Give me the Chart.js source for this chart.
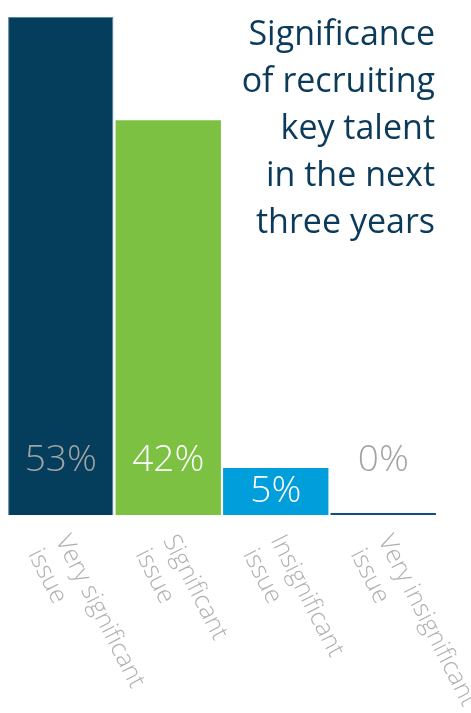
<!DOCTYPE html>
<html>
<head>
<meta charset="utf-8">
<script src="https://cdn.jsdelivr.net/npm/chart.js@4"></script>
<style>
  html, body { margin: 0; padding: 0; background: #fff; }
  canvas { display: block; }
</style>
</head>
<body>
<canvas id="talentChart" width="471" height="713"></canvas>
<script>
const categories = [
  ["Very significant", "issue"],
  ["Significant", "issue"],
  ["Insignificant", "issue"],
  ["Very insignificant", "issue"]
];
const shares = [53, 42, 5, 0];
const titleLines = ["Significance", "of recruiting", "key talent", "in the next", "three years"];

const barColors = ["#053d5c", "#7cc142", "#009fdc", "#0e4d85"];
const valueColors = ["#a3a3a3", "#ffffff", "#ffffff", "#a3a3a3"];

// title block in the top right corner
const titlePlugin = {
  id: "cornerTitle",
  afterDraw(chart) {
    const c = chart.ctx;
    c.save();
    c.fillStyle = "#0b3a5a";
    c.font = "34px 'Open Sans'";
    c.textAlign = "right";
    c.textBaseline = "alphabetic";
    titleLines.forEach((line, i) => c.fillText(line, 435, 45 + i * 47));
    c.restore();
  }
};

// percentage inside each bar, plus slanted category names under the axis
const labelPlugin = {
  id: "barLabels",
  afterDatasetsDraw(chart) {
    const c = chart.ctx;
    const meta = chart.getDatasetMeta(0);
    const base = chart.scales.y.getPixelForValue(0);
    c.save();
    c.font = "300 37px 'Open Sans'";
    c.textAlign = "center";
    c.textBaseline = "middle";
    meta.data.forEach((bar, i) => {
      let y = 460;
      if (shares[i] > 0 && bar.y > y - 18) y = (bar.y + base) / 2;
      c.fillStyle = valueColors[i];
      c.fillText(shares[i] + "%", bar.x, y);
    });

    c.font = "300 25px 'Open Sans'";
    c.fillStyle = "#b0b0b0";
    c.textAlign = "left";
    c.textBaseline = "top";
    meta.data.forEach((bar, i) => {
      c.save();
      c.translate(bar.x + 12, 531);
      c.rotate(63 * Math.PI / 180);
      categories[i].forEach((line, k) => c.fillText(line, 0, k * 31));
      c.restore();
    });
    c.restore();
  }
};

new Chart(document.getElementById("talentChart").getContext("2d"), {
  type: "bar",
  data: {
    labels: categories,
    datasets: [{
      data: shares,
      backgroundColor: barColors,
      borderColor: ["#5d86a3", "#7cc142", "#009fdc", "#0e4d85"],
      borderWidth: [1, 0, 0, 0],
      borderSkipped: "bottom",
      minBarLength: 2,
      barPercentage: 0.98,
      categoryPercentage: 1
    }]
  },
  options: {
    responsive: false,
    animation: false,
    layout: { padding: { left: 7, right: 34, top: 17, bottom: 198 } },
    plugins: {
      legend: { display: false },
      tooltip: { enabled: false },
      title: { display: false }
    },
    scales: {
      x: { display: false },
      y: { display: false, min: 0, max: 53 }
    }
  },
  plugins: [titlePlugin, labelPlugin]
});
</script>
</body>
</html>
